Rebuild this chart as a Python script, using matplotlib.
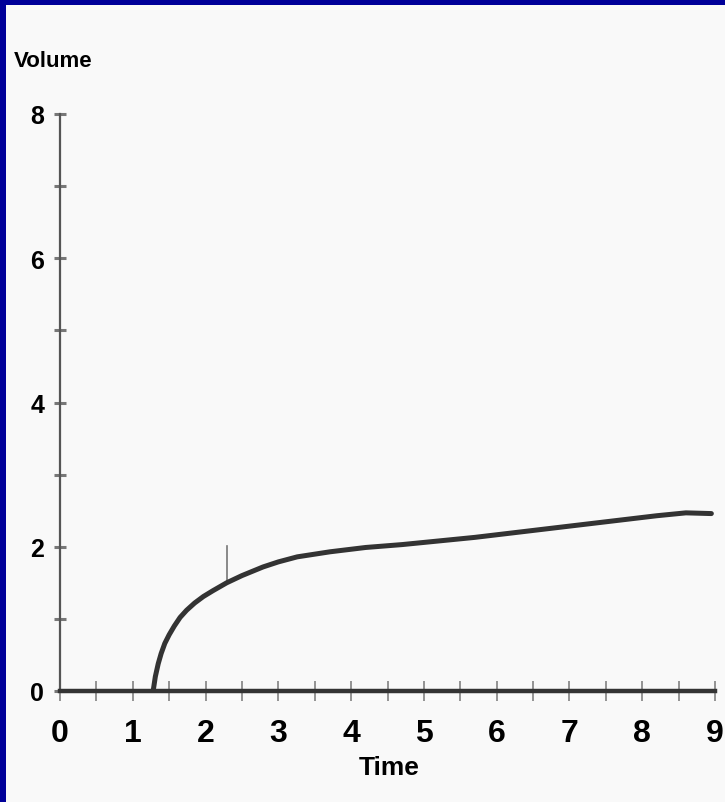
import matplotlib
matplotlib.use("Agg")
import matplotlib.pyplot as plt
from matplotlib.patches import Rectangle
from matplotlib.ticker import MultipleLocator

# volume trace
time = [1.28, 1.31, 1.35, 1.39, 1.44, 1.5, 1.57, 1.65, 1.74, 1.85, 1.97,
        2.1, 2.29, 2.5, 2.79, 3.0, 3.26, 3.71, 4.2, 4.7, 5.2, 5.7, 6.2,
        6.7, 7.2, 7.7, 8.2, 8.6, 8.95]
volume = [0, 0.2, 0.38, 0.52, 0.66, 0.78, 0.9, 1.02, 1.12, 1.22, 1.31,
          1.39, 1.5, 1.6, 1.72, 1.79, 1.86, 1.93, 1.99, 2.03, 2.08, 2.13, 2.19,
          2.25, 2.31, 2.37, 2.43, 2.47, 2.46]

# short marker stroke on the trace
mark_time = [2.29, 2.29]
mark_volume = [1.53, 2.01]

x_ticks = [0, 1, 2, 3, 4, 5, 6, 7, 8, 9]
y_ticks = [0, 2, 4, 6, 8]

plt.rcParams['font.family'] = ['Liberation Sans Narrow', 'Liberation Sans', 'DejaVu Sans']
plt.rcParams['font.weight'] = 'bold'

fig = plt.figure(figsize=(7.25, 8.03), dpi=100, facecolor='#000099')
# light sheet with blue frame on top and left
fig.add_artist(Rectangle((6 / 725, 0), 1, 1 - 6 / 803, transform=fig.transFigure,
                         facecolor='#f9f9f9', edgecolor='none', zorder=0))

ax = fig.add_axes([60 / 725, 111 / 803, 655 / 725, 577 / 803])
ax.set_facecolor('none')
ax.set_xlim(0, 9)
ax.set_ylim(0, 8)

ax.plot(time, volume, color='#333333', lw=3.6, solid_capstyle='round',
        solid_joinstyle='round', zorder=3)
ax.plot(mark_time, mark_volume, color='#777777', lw=1.2, zorder=2)

for s in ['top', 'right']:
    ax.spines[s].set_visible(False)
ax.spines['left'].set_color('#555555')
ax.spines['left'].set_linewidth(1.6)
ax.spines['bottom'].set_color('#333333')
ax.spines['bottom'].set_linewidth(3.2)
ax.spines['bottom'].set_zorder(4)

ax.set_xticks(x_ticks)
ax.set_xticklabels([str(v) for v in x_ticks])
ax.xaxis.set_minor_locator(MultipleLocator(0.5))
ax.set_yticks(y_ticks)
ax.set_yticklabels([str(v) for v in y_ticks])
ax.yaxis.set_minor_locator(MultipleLocator(1))

ax.tick_params(axis='x', which='both', direction='inout', length=15, width=1.1,
               color='#777777')
ax.tick_params(axis='x', which='major', labelsize=23, pad=12)
ax.tick_params(axis='y', which='both', direction='inout', length=9, width=2.2,
               color='#777777')
ax.tick_params(axis='y', which='major', labelsize=18, pad=7)

ax.text(-0.1, 8.74, 'Volume', fontsize=16, ha='center', va='center', clip_on=False)
ax.text(4.53, -1.06, 'Time', fontsize=19, ha='center', va='center', clip_on=False)

fig.savefig('out.png', dpi=100, facecolor=fig.get_facecolor())
